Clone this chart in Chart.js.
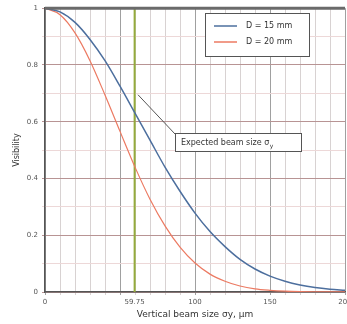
<!DOCTYPE html>
<html>
<head>
<meta charset="utf-8">
<script src="https://cdn.jsdelivr.net/npm/chart.js@4"></script>
<style>
  html, body { margin: 0; padding: 0; background: #fff; }
  #wrap { width: 347px; height: 324px; position: relative; }
</style>
</head>
<body>
<div id="wrap"><canvas id="c"></canvas></div>
<script>
// beam size sigma_y (um) and visibility
const sizes  = [0, 10, 20, 30, 40, 50, 60, 70, 80, 90, 100, 110, 120, 130, 140, 150, 160, 170, 180, 190, 200];
const vis15  = [1, 0.987, 0.95, 0.89, 0.815, 0.725, 0.63, 0.535, 0.44, 0.355, 0.278, 0.213, 0.16, 0.115, 0.081, 0.056, 0.038, 0.025, 0.016, 0.01, 0.006];
const vis20  = [1, 0.977, 0.913, 0.815, 0.694, 0.566, 0.44, 0.327, 0.233, 0.158, 0.102, 0.063, 0.038, 0.021, 0.011, 0.006, 0.003, 0.0015, 0.0008, 0.0004, 0.0002];
const expectedSize = 59.75;
const xLabels = [0, 59.75, 100, 150, 200];
const yLabels = [0, 0.2, 0.4, 0.6, 0.8, 1];

const FONT = 'DejaVu Sans';
const pts = (ys) => sizes.map((x, i) => ({ x: x, y: ys[i] }));

// legend + annotation drawn by hand
const extras = {
  id: 'extras',
  afterDatasetsDraw(chart) {
    const c = chart.ctx, xs = chart.scales.x, ys = chart.scales.y;
    c.save();
    // thick top border at visibility = 1
    c.strokeStyle = '#6a6a6a';
    c.lineWidth = 3;
    c.beginPath();
    c.moveTo(chart.chartArea.left, ys.getPixelForValue(1));
    c.lineTo(chart.chartArea.right, ys.getPixelForValue(1));
    c.stroke();

    // legend
    const lx = 205, ly = 13, lw = 104, lh = 43;
    c.fillStyle = '#fff';
    c.fillRect(lx, ly, lw, lh);
    c.strokeStyle = '#555';
    c.lineWidth = 1;
    c.strokeRect(lx + 0.5, ly + 0.5, lw, lh);
    const items = [['D = 15 mm', '#4d6f9e'], ['D = 20 mm', '#ec7a62']];
    c.font = '8px ' + FONT;
    c.textBaseline = 'middle';
    items.forEach((it, i) => {
      const yy = ly + 13 + i * 16;
      c.strokeStyle = it[1];
      c.lineWidth = 1.5;
      c.beginPath(); c.moveTo(lx + 9, yy); c.lineTo(lx + 32, yy); c.stroke();
      c.fillStyle = '#333';
      c.fillText(it[0], lx + 41, yy);
    });

    // annotation box and leader
    const bx = 175, by = 133, bw = 126, bh = 18;
    c.strokeStyle = '#555';
    c.lineWidth = 1;
    c.beginPath();
    c.moveTo(xs.getPixelForValue(62), ys.getPixelForValue(0.695));
    c.lineTo(bx, by + 1);
    c.stroke();
    c.fillStyle = '#fff';
    c.fillRect(bx, by, bw, bh);
    c.strokeRect(bx + 0.5, by + 0.5, bw, bh);
    c.fillStyle = '#333';
    c.font = '8px ' + FONT;
    c.fillText('Expected beam size σ', bx + 6, by + bh / 2 + 1);
    const tw = c.measureText('Expected beam size σ').width;
    c.font = '6px ' + FONT;
    c.fillText('y', bx + 6 + tw + 0.5, by + bh / 2 + 4);
    c.restore();
  }
};

new Chart(document.getElementById('c'), {
  type: 'line',
  data: {
    datasets: [
      { label: 'D = 15 mm', data: pts(vis15), borderColor: '#4d6f9e', borderWidth: 1.5, pointRadius: 0, tension: 0.4, cubicInterpolationMode: 'monotone' },
      { label: 'D = 20 mm', data: pts(vis20), borderColor: '#ec7a62', borderWidth: 1.2, pointRadius: 0, tension: 0.4, cubicInterpolationMode: 'monotone' },
      { label: 'expected', data: [{ x: expectedSize, y: 0 }, { x: expectedSize, y: 1 }], borderColor: '#94ab3c', borderWidth: 2, pointRadius: 0 }
    ]
  },
  options: {
    responsive: true,
    maintainAspectRatio: false,
    animation: false,
    layout: { padding: { top: 7, right: 2, left: 8, bottom: 0 } },
    plugins: { legend: { display: false }, tooltip: { enabled: false } },
    scales: {
      x: {
        type: 'linear', min: 0, max: 200,
        afterBuildTicks(s) {
          const t = [];
          for (let v = 0; v <= 200; v += 10) t.push({ value: v });
          t.push({ value: expectedSize });
          t.sort((a, b) => a.value - b.value);
          s.ticks = t;
        },
        ticks: {
          autoSkip: false, maxRotation: 0, color: '#555', font: { family: FONT, size: 7 }, padding: 3,
          callback: (v) => xLabels.includes(v) ? String(v) : ''
        },
        grid: {
          color: (ctx) => {
            const v = ctx.tick.value;
            if (v === expectedSize) return 'rgba(0,0,0,0)';
            return v % 50 === 0 ? '#a0a0a0' : '#d8d2d2';
          },
          tickLength: 3
        },
        border: { color: '#555', width: 1.5 },
        title: { display: true, text: 'Vertical beam size σy, μm', color: '#333', font: { family: FONT, size: 9 }, padding: { top: 7 } },
        afterFit(s) { s.height = 32; s.paddingRight = 0; s.paddingLeft = 0; }
      },
      y: {
        min: 0, max: 1,
        ticks: {
          stepSize: 0.1, color: '#555', font: { family: FONT, size: 7 }, padding: 4,
          callback: (v) => yLabels.some(l => Math.abs(l - v) < 1e-6) ? String(Math.round(v * 10) / 10) : ''
        },
        grid: {
          color: (ctx) => {
            const v = Math.round(ctx.tick.value * 10);
            return v % 2 === 0 ? '#b89494' : '#edd8d8';
          },
          tickLength: 3
        },
        border: { color: '#555', width: 1.5 },
        title: { display: true, text: 'Visibility', color: '#333', font: { family: FONT, size: 8 }, padding: { bottom: 2 } },
        afterFit(s) { s.width = 37; }
      }
    }
  },
  plugins: [extras]
});
</script>
</body>
</html>
